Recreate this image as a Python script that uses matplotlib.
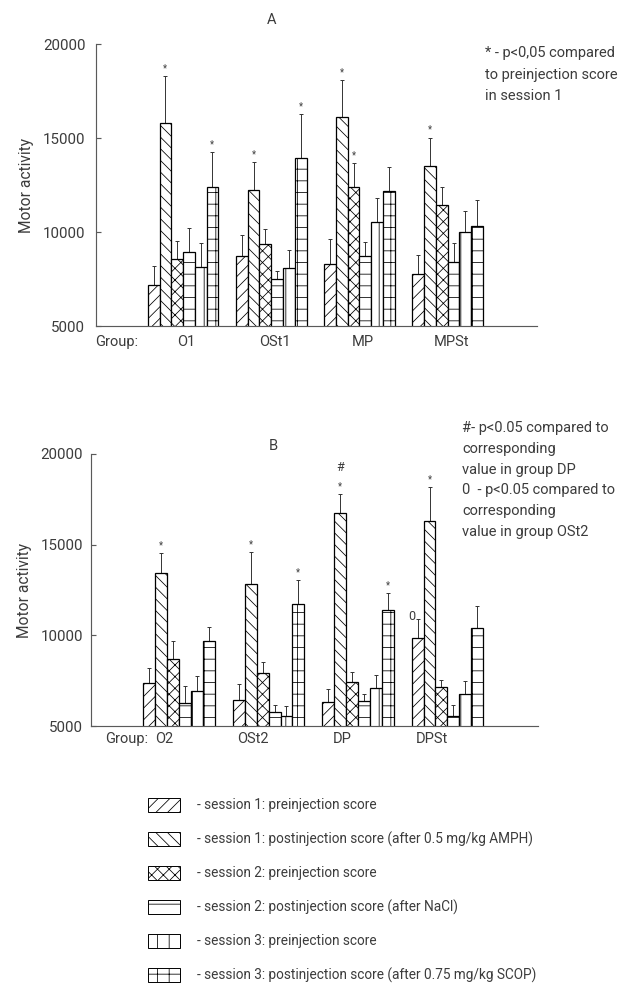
import matplotlib
matplotlib.use('Agg')
import matplotlib.pyplot as plt
from matplotlib.patches import Rectangle
import numpy as np

plt.rcParams['font.family'] = ['Roboto', 'DejaVu Sans']
plt.rcParams['hatch.linewidth'] = 0.8

# --- datos ---
series_labels = [
    '- session 1: preinjection score',
    '- session 1: postinjection score (after 0.5 mg/kg AMPH)',
    '- session 2: preinjection score',
    '- session 2: postinjection score (after NaCl)',
    '- session 3: preinjection score',
    '- session 3: postinjection score (after 0.75 mg/kg SCOP)',
]

groups_a = ['O1', 'OSt1', 'MP', 'MPSt']
means_a = [
    [7200, 8750, 8320, 7790],
    [15820, 12220, 16110, 13510],
    [8590, 9340, 12380, 11420],
    [8950, 7520, 8730, 8430],
    [8150, 8110, 10510, 9980],
    [12380, 13920, 12200, 10300],
]
sem_a = [
    [980, 1070, 1320, 1000],
    [2460, 1490, 1950, 1510],
    [920, 800, 1270, 990],
    [1240, 410, 730, 1000],
    [1240, 920, 1280, 1120],
    [1860, 2350, 1240, 1400],
]
stars_a = [(0, 1), (0, 5), (1, 1), (1, 5), (2, 1), (2, 2), (3, 1)]

groups_b = ['O2', 'OSt2', 'DP', 'DPSt']
means_b = [
    [7390, 6450, 6330, 9880],
    [13450, 12820, 16760, 16320],
    [8680, 7930, 7430, 7150],
    [6290, 5770, 6380, 5550],
    [6950, 5570, 7120, 6790],
    [9710, 11720, 11420, 10430],
]
sem_b = [
    [830, 890, 730, 1030],
    [1100, 1790, 1010, 1840],
    [1010, 600, 550, 410],
    [920, 390, 370, 610],
    [830, 550, 680, 680],
    [760, 1320, 920, 1200],
]
stars_b = [(0, 1), (1, 1), (1, 5), (2, 1), (2, 5), (3, 1)]
hash_b = [(2, 1)]
zero_b = [(3, 0)]

note_a = ['* - p<0,05 compared', 'to preinjection score', 'in session 1']
note_b = ['#- p<0.05 compared to', 'corresponding', 'value in group DP',
          '0  - p<0.05 compared to', 'corresponding', 'value in group OSt2']

hatches = ['//', '\\\\', 'xx', '-', '|', '+']
txt_color = '#3c3c3c'
ax_color = '#5a5a5a'
fs = 15
fs_tick = 15.5
fs_leg = 14
W, H = 618, 985
DPI = 70

fig = plt.figure(figsize=(W / DPI, H / DPI), dpi=DPI)

spacing = 7.5


def draw_panel(rect, groups, means, sems, stars, label_shift, tick_pad,
               group_x, label_dy):
    ax = fig.add_axes(rect)
    n = len(groups)
    centers = np.arange(n) * spacing
    for i in range(6):
        x = centers + i + 0.5
        ax.bar(x, means[i], width=1.0, color='white', edgecolor='black',
               linewidth=1.3, hatch=hatches[i], zorder=2)
        ax.errorbar(x, means[i], yerr=[np.zeros(n), sems[i]], fmt='none',
                    ecolor='#333333', elinewidth=1.0, capsize=2.5,
                    capthick=1.0, zorder=1)
    for g, i in stars:
        top = means[i][g] + sems[i][g]
        ax.annotate('*', (g * spacing + i + 0.5, top), xytext=(0, 8),
                    textcoords='offset points', ha='center', va='center',
                    fontsize=10, color=txt_color)
    ax.set_xlim(-4.4, 3 * spacing + 6 + 4.6)
    ax.set_ylim(5000, 20000)
    ax.set_yticks([5000, 10000, 15000, 20000])
    ax.set_xticks([])
    for s in ['top', 'right']:
        ax.spines[s].set_visible(False)
    for s in ['left', 'bottom']:
        ax.spines[s].set_color(ax_color)
        ax.spines[s].set_linewidth(1.2)
    ax.tick_params(axis='y', direction='in', length=5, width=1.2,
                   color=ax_color, labelsize=fs_tick, labelcolor=txt_color,
                   pad=tick_pad)
    ax.set_ylabel('Motor activity', fontsize=16, color=txt_color, labelpad=9)
    # etiquetas de grupo
    ax.annotate('Group:', (group_x, 0), xycoords='axes fraction',
                xytext=(0, label_dy), textcoords='offset points', ha='left',
                va='center', fontsize=fs, color=txt_color)
    for g, name in enumerate(groups):
        ax.annotate(name, (g * spacing + 3 + label_shift, 5000),
                    xytext=(0, label_dy), textcoords='offset points',
                    ha='center', va='center', fontsize=fs, color=txt_color,
                    annotation_clip=False)
    return ax


ax_a = draw_panel([96 / W, 1 - 326 / H, 441 / W, 282 / H], groups_a,
                  means_a, sem_a, stars_a, 0.3, 11, -0.002, -16)
ax_b = draw_panel([91 / W, 1 - 726 / H, 447 / W, 272 / H], groups_b,
                  means_b, sem_b, stars_b, -1.3, 8, 0.031, -13.5)

for g, i in hash_b:
    top = means_b[i][g] + sem_b[i][g]
    ax_b.annotate('#', (g * spacing + i + 0.5, top), xytext=(0, 28),
                  textcoords='offset points', ha='center', va='center',
                  fontsize=13, color=txt_color)
for g, i in zero_b:
    top = means_b[i][g] + sem_b[i][g]
    ax_b.annotate('0', (g * spacing + i, top), xytext=(0, 2),
                  textcoords='offset points', ha='center', va='center',
                  fontsize=13, color=txt_color)

fig.text(272 / W, 1 - 20 / H, 'A', ha='center', va='center', fontsize=fs,
         color=txt_color)
fig.text(273 / W, 1 - 446 / H, 'B', ha='center', va='center', fontsize=fs,
         color=txt_color)

for k, line in enumerate(note_a):
    fig.text(485 / W, 1 - (53 + 21.5 * k) / H, line, ha='left', va='center',
             fontsize=fs, color=txt_color)
for k, line in enumerate(note_b):
    fig.text(462 / W, 1 - (428 + 20.8 * k) / H, line, ha='left', va='center',
             fontsize=fs, color=txt_color)

# leyenda
lax = fig.add_axes([0, 0, 1, 1])
lax.set_xlim(0, W)
lax.set_ylim(H, 0)
lax.axis('off')
for i, lab in enumerate(series_labels):
    yc = 805 + 34 * i
    lax.add_patch(Rectangle((148, yc - 7), 32, 14, facecolor='white',
                            edgecolor='black', linewidth=1.0,
                            hatch=hatches[i]))
    lax.text(197, yc, lab, ha='left', va='center', fontsize=fs_leg,
             color=txt_color)

fig.savefig('out.png', dpi=DPI)
